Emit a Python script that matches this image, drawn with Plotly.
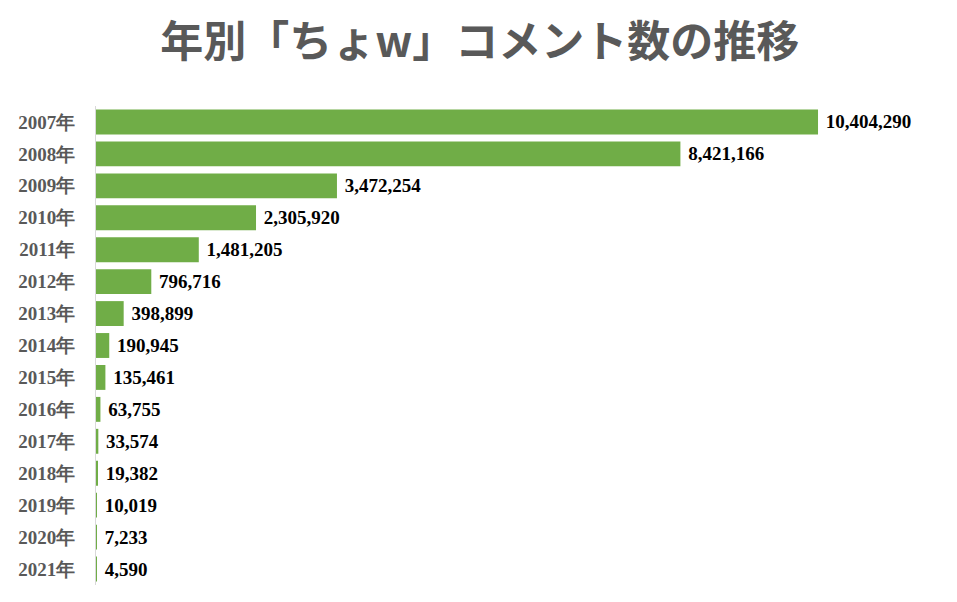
import plotly.graph_objects as go

years = ["2007年", "2008年", "2009年", "2010年", "2011年", "2012年", "2013年", "2014年",
         "2015年", "2016年", "2017年", "2018年", "2019年", "2020年", "2021年"]
counts = [10404290, 8421166, 3472254, 2305920, 1481205, 796716, 398899, 190945,
          135461, 63755, 33574, 19382, 10019, 7233, 4590]

fig = go.Figure(go.Bar(
    x=counts, y=years, orientation="h",
    marker=dict(color="#70AD47", line=dict(width=0)),
    texttemplate="\u00a0%{x:,}", textposition="outside", cliponaxis=False,
    textfont=dict(family="Liberation Serif", size=19, color="#000000", weight="bold"),
    hoverinfo="skip",
))

fig.update_layout(
    width=957, height=602,
    margin=dict(l=88, r=25, t=98, b=25, autoexpand=False),
    paper_bgcolor="white", plot_bgcolor="white",
    bargap=0.22,
    showlegend=False,
    title=dict(text="年別「ちょw」コメント数の推移", x=0.493, xanchor="center",
               y=0.9435, yanchor="middle",
               font=dict(family="Noto Sans CJK JP", size=43, color="#595959", weight="bold")),
    xaxis=dict(range=[0, 12162000], visible=False, showgrid=False),
    yaxis=dict(autorange="reversed", showgrid=False, showline=True, linecolor="#D9D9D9",
               linewidth=1, ticks="", ticklabelstandoff=16, automargin=False,
               tickfont=dict(family="Liberation Serif", size=19, color="#595959", weight="bold")),
)

fig.write_html("out.html")
